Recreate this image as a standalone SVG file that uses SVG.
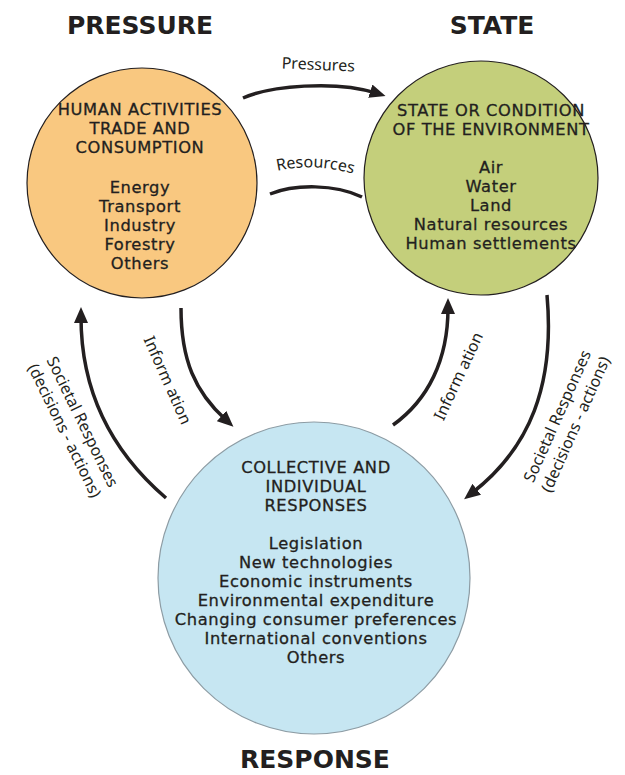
<svg xmlns="http://www.w3.org/2000/svg" width="625" height="775" viewBox="0 0 625 775">
<style>
.title{font-family:"DejaVu Sans","Liberation Sans",sans-serif;font-weight:bold;font-size:25px;fill:#231f20;text-anchor:middle}
.body{font-family:"DejaVu Sans","Liberation Sans",sans-serif;font-size:16.3px;letter-spacing:0.6px;fill:#231f20;stroke:#231f20;stroke-width:0.3;text-anchor:middle}
.lbl{font-family:"Noto Sans","Liberation Sans",sans-serif;font-size:16px;fill:#231f20;text-anchor:middle}
.arrow{fill:none;stroke:#231f20;stroke-width:3.5}
</style>
<defs>
<marker id="ah" markerUnits="userSpaceOnUse" markerWidth="18" markerHeight="14" refX="6" refY="7" orient="auto">
<path d="M0,0 L16,7 L0,14 z" fill="#231f20"/>
</marker>
<path id="resPath" d="M262,175 Q315,158 368,179"/>
</defs>
<rect width="625" height="775" fill="#ffffff"/>

<g id="pressure">
<circle cx="142" cy="183" r="115" fill="#f9c880" stroke="#231f20" stroke-width="1.2"/>
<text class="title" x="140" y="34">PRESSURE</text>
<text class="body" x="140" y="115">HUMAN ACTIVITIES</text>
<text class="body" x="140" y="134">TRADE AND</text>
<text class="body" x="140" y="153">CONSUMPTION</text>
<text class="body" x="140" y="193">Energy</text>
<text class="body" x="140" y="212">Transport</text>
<text class="body" x="140" y="231">Industry</text>
<text class="body" x="140" y="250">Forestry</text>
<text class="body" x="140" y="269">Others</text>
</g>

<g id="state">
<circle cx="481" cy="178" r="117" fill="#c4cf7b" stroke="#231f20" stroke-width="1.2"/>
<text class="title" x="492" y="34">STATE</text>
<text class="body" x="491" y="116">STATE OR CONDITION</text>
<text class="body" x="491" y="135">OF THE ENVIRONMENT</text>
<text class="body" x="491" y="173">Air</text>
<text class="body" x="491" y="192">Water</text>
<text class="body" x="491" y="211">Land</text>
<text class="body" x="491" y="230">Natural resources</text>
<text class="body" x="491" y="249">Human settlements</text>
</g>

<g id="response">
<circle cx="314" cy="578" r="156" fill="#c6e6f2" stroke="#8d9ca4" stroke-width="1.2"/>
<text class="title" x="315" y="768">RESPONSE</text>
<text class="body" x="316" y="473">COLLECTIVE AND</text>
<text class="body" x="316" y="492">INDIVIDUAL</text>
<text class="body" x="316" y="511">RESPONSES</text>
<text class="body" x="316" y="549">Legislation</text>
<text class="body" x="316" y="568">New technologies</text>
<text class="body" x="316" y="587">Economic instruments</text>
<text class="body" x="316" y="606">Environmental expenditure</text>
<text class="body" x="316" y="625">Changing consumer preferences</text>
<text class="body" x="316" y="644">International conventions</text>
<text class="body" x="316" y="663">Others</text>
</g>

<g id="connectors">
<path class="arrow" d="M243,98 C270,86 335,80 376,93" marker-end="url(#ah)"/>
<path class="arrow" d="M270,194 C295,184 335,184 362,197"/>
<path class="arrow" d="M181,308 C181,360 195,392 226,420" marker-end="url(#ah)"/>
<path class="arrow" d="M166,498 C110,450 81,390 81,317" marker-end="url(#ah)"/>
<path class="arrow" d="M393,425 C428,400 448,360 448,308" marker-end="url(#ah)"/>
<path class="arrow" d="M547,295 C555,385 530,448 472,493" marker-end="url(#ah)"/>
</g>

<g id="labels">
<text class="lbl" transform="translate(318,70) rotate(2.5)">Pressures</text>
<text class="lbl"><textPath href="#resPath" startOffset="50%">Resources</textPath></text>
<text class="lbl" dominant-baseline="central" transform="translate(168,380) rotate(66)">Inform ation</text>
<text class="lbl" dominant-baseline="central" transform="translate(458,376) rotate(-65)">Inform ation</text>
<g transform="translate(74,426) rotate(64)">
<text class="lbl" x="0" y="-10" dominant-baseline="central">Societal Responses</text>
<text class="lbl" x="0" y="10" dominant-baseline="central">(decisions - actions)</text>
</g>
<g transform="translate(566,420) rotate(-66)">
<text class="lbl" x="0" y="-10" dominant-baseline="central">Societal Responses</text>
<text class="lbl" x="0" y="10" dominant-baseline="central">(decisions - actions)</text>
</g>
</g>
</svg>
